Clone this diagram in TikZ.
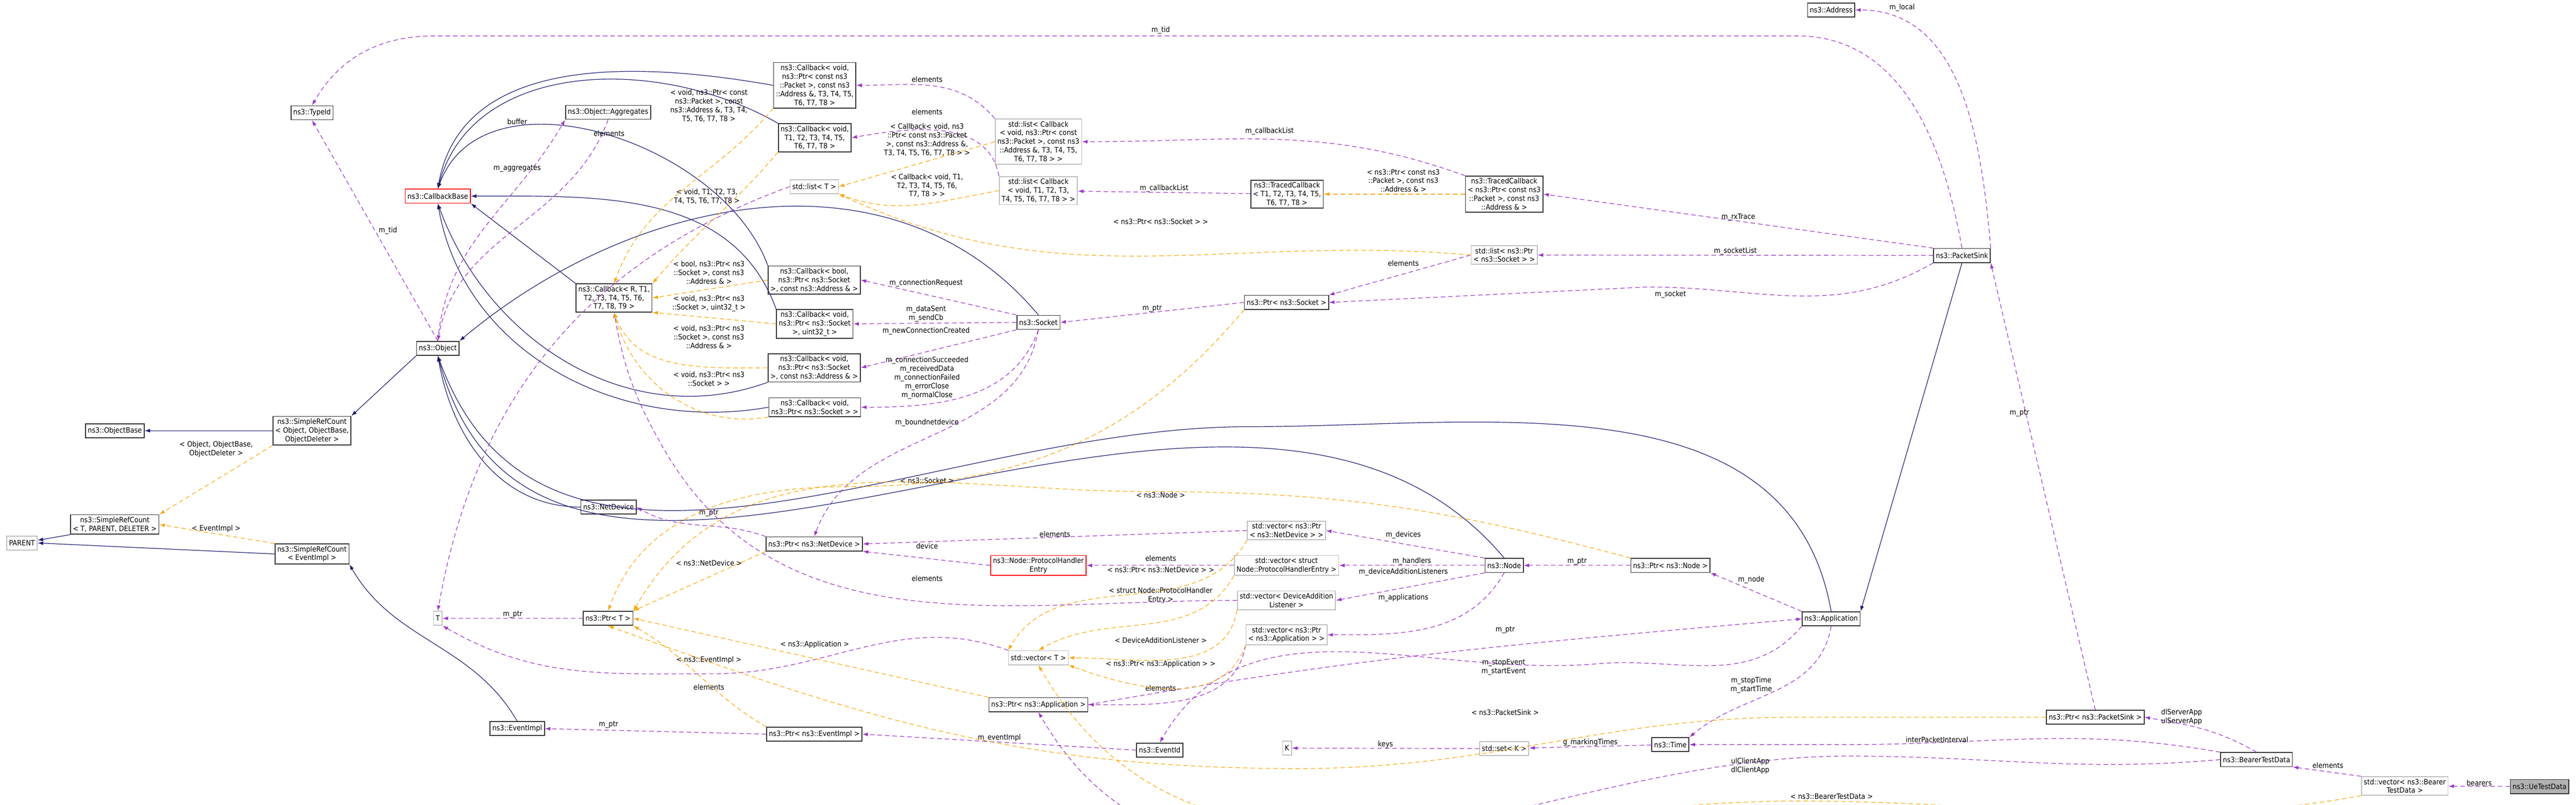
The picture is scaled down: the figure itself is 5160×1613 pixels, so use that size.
\documentclass[tikz,border=0pt]{standalone}
\usepackage{fontspec}
\setmainfont{DejaVu Sans Condensed}
\usetikzlibrary{arrows.meta}
\definecolor{inhblue}{HTML}{191970}
\definecolor{usepurple}{HTML}{9A32CD}
\definecolor{instorange}{HTML}{FFA500}
\definecolor{tmplgray}{HTML}{BFBFBF}
\tikzset{
  cls/.style={draw=black!80, line width=0.5pt, rectangle, inner xsep=1.3pt, inner ysep=1.2pt, minimum height=0.28cm, align=center, font=\fontsize{4.2}{4.95}\selectfont, fill=white},
  tmpl/.style={cls, draw=tmplgray},
  bad/.style={cls, draw=red},
  here/.style={cls, fill=black!30},
  lbl/.style={font=\fontsize{4.2}{4.95}\selectfont, align=center, inner sep=0pt},
  tip/.style={-{Latex[length=0.11cm,width=0.075cm]}},
  inh/.style={tip, draw=inhblue, line width=0.35pt},
  use/.style={tip, draw=usepurple, line width=0.35pt, dash pattern=on 0.09cm off 0.06cm},
  inst/.style={tip, draw=instorange, line width=0.35pt, dash pattern=on 0.09cm off 0.06cm},
}
\begin{document}
\begin{tikzpicture}[x=0.01cm,y=-0.01cm]
\useasboundingbox (0,0) rectangle (5160,1613);
% base classes
\node[cls] (typeid) at (625,226) {ns3::TypeId};
\node[bad] (cbbase) at (877,393) {ns3::CallbackBase};
\node[cls] (aggr) at (1218,225) {ns3::Object::Aggregates};
\node[cls] (object) at (877,698) {ns3::Object};
\node[cls] (cbrt) at (1230,597) {ns3::Callback< R, T1,\\ T2, T3, T4, T5, T6,\\ T7, T8, T9 >};
\node[cls] (objbase) at (230,863) {ns3::ObjectBase};
\node[cls] (srcobj) at (625,863) {ns3::SimpleRefCount\\< Object, ObjectBase,\\ ObjectDeleter >};
\node[cls] (srct) at (230,1051) {ns3::SimpleRefCount\\< T, PARENT, DELETER >};
\node[tmpl] (parent) at (44,1088) {PARENT};
\node[cls] (srcev) at (625,1110) {ns3::SimpleRefCount\\< EventImpl >};
\node[cls] (netdev) at (1219,1016) {ns3::NetDevice};
\node[tmpl] (tt) at (877,1239) {T};
\node[cls] (ptrt) at (1218,1239) {ns3::Ptr< T >};
\node[cls] (evimpl) at (1036,1460) {ns3::EventImpl};
% callbacks
\node[cls] (cbpkt) at (1632,171) {ns3::Callback< void,\\ ns3::Ptr< const ns3\\::Packet >, const ns3\\::Address \&, T3, T4, T5,\\ T6, T7, T8 >};
\node[cls] (cbt) at (1632,276) {ns3::Callback< void,\\ T1, T2, T3, T4, T5,\\ T6, T7, T8 >};
\node[tmpl] (listt) at (1631,374) {std::list< T >};
\node[tmpl] (listcbpkt) at (2080,284) {std::list< Callback\\< void, ns3::Ptr< const\\ ns3::Packet >, const ns3\\::Address \&, T3, T4, T5,\\ T6, T7, T8 > >};
\node[tmpl] (listcbt) at (2080,382) {std::list< Callback\\< void, T1, T2, T3,\\ T4, T5, T6, T7, T8 > >};
\node[cls] (tracedt) at (2578,389) {ns3::TracedCallback\\< T1, T2, T3, T4, T5,\\ T6, T7, T8 >};
\node[cls] (cbbool) at (1631,561) {ns3::Callback< bool,\\ ns3::Ptr< ns3::Socket\\ >, const ns3::Address \& >};
\node[cls] (cbuint) at (1632,649) {ns3::Callback< void,\\ ns3::Ptr< ns3::Socket\\ >, uint32\_t >};
\node[cls] (cbaddr) at (1631,737) {ns3::Callback< void,\\ ns3::Ptr< ns3::Socket\\ >, const ns3::Address \& >};
\node[cls] (cbsock) at (1632,816) {ns3::Callback< void,\\ ns3::Ptr< ns3::Socket > >};
\node[cls] (socket) at (2080,646) {ns3::Socket};
\node[cls] (ptrsock) at (2577,606) {ns3::Ptr< ns3::Socket >};
\node[cls] (address) at (3668,20) {ns3::Address};
\node[cls] (tracedpkt) at (3013,389) {ns3::TracedCallback\\< ns3::Ptr< const ns3\\::Packet >, const ns3\\::Address \& >};
\node[tmpl] (listsock) at (3013,511) {std::list< ns3::Ptr\\< ns3::Socket > >};
\node[cls] (sink) at (3930,512) {ns3::PacketSink};
% node, devices, applications
\node[cls] (ptrnd) at (1631,1090) {ns3::Ptr< ns3::NetDevice >};
\node[bad] (proto) at (2080,1133) {ns3::Node::ProtocolHandler\\Entry};
\node[tmpl] (vect) at (2080,1318) {std::vector< T >};
\node[cls] (ptrapp) at (2080,1412) {ns3::Ptr< ns3::Application >};
\node[cls] (ptrev) at (1631,1471) {ns3::Ptr< ns3::EventImpl >};
\node[cls] (evid) at (2323,1503) {ns3::EventId};
\node[tmpl] (kk) at (2578,1499) {K};
\node[tmpl] (vecnd) at (2577,1063) {std::vector< ns3::Ptr\\< ns3::NetDevice > >};
\node[tmpl] (vecproto) at (2577,1133) {std::vector< struct\\ Node::ProtocolHandlerEntry >};
\node[tmpl] (vecdal) at (2577,1203) {std::vector< DeviceAddition\\Listener >};
\node[tmpl] (vecapp) at (2577,1272) {std::vector< ns3::Ptr\\< ns3::Application > >};
\node[cls] (node) at (3013,1133) {ns3::Node};
\node[cls] (ptrnode) at (3346,1133) {ns3::Ptr< ns3::Node >};
\node[cls] (app) at (3668,1240) {ns3::Application};
\node[cls] (time) at (3346,1492) {ns3::Time};
\node[tmpl] (setk) at (3013,1500) {std::set< K >};
\node[cls] (ptrsink) at (4197,1437) {ns3::Ptr< ns3::PacketSink >};
\node[cls] (bearer) at (4520,1522) {ns3::BearerTestData};
\node[tmpl] (vecbearer) at (4817,1575) {std::vector< ns3::Bearer\\TestData >};
\node[here] (ue) at (5087,1576) {ns3::UeTestData};

% inheritance
\draw[inh] (srcobj) -- (objbase);
\draw[inh] (object.south west) -- (srcobj.north east);
\draw[inh] (srct.south west) -- (parent);
\draw[inh] (srcev.west) -- (parent.east);
\draw[inh] (evimpl.north) to[out=120,in=-60] (srcev.south east);
\draw[inh] (cbrt.north west) -- (cbbase.south east);
\draw[inh] (cbpkt.west) to[out=170,in=80] (cbbase.north);
\draw[inh] (cbt.north west) to[out=150,in=75] (cbbase.north);
\draw[inh] (cbbool.north west) to[out=110,in=70] (cbbase.north);
\draw[inh] (cbuint.north west) to[out=110,in=0] (cbbase.east);
\draw[inh] (cbaddr.south west) to[out=200,in=-70] (cbbase.south);
\draw[inh] (cbsock.west) to[out=190,in=-80] (cbbase.south);
\draw[inh] (socket.north) to[out=130,in=40] (object.north east);
\draw[inh] (netdev.west) to[out=180,in=-80] (object.south);
\draw[inh] (node.north) to[out=130,in=-75] (object.south);
\draw[inh] (app.north) to[out=100,in=0] (2500,855) to[out=180,in=-70] (object.south);
\draw[inh] (sink.south) -- (app.north east);

% usage
\draw[use] (object.north) -- node[lbl,pos=.5,right=2pt] {m\_tid} (typeid.south);
\draw[use] (sink.north) to[out=100,in=0] (3600,72) -- (870,72) to[out=180,in=60] (typeid.north);
\node[lbl] at (2325,61) {m\_tid};
\draw[use] (sink.north east) to[out=95,in=0] (address.east);
\node[lbl] at (3810,15) {m\_local};
\draw[use] (object.north) to[out=85,in=-120] (aggr.south west);
\node[lbl] at (1036,338) {m\_aggregates};
\draw[use] (aggr.south) to[out=-110,in=80] (object.north);
\node[lbl] at (1036,244) {buffer};
\draw[use] (listt.west) to[out=200,in=80] (tt.north);
\node[lbl] at (1220,267) {elements};
\draw[use] (listcbpkt.north west) to[out=130,in=0] (cbpkt.east);
\node[lbl] at (1857,159) {elements};
\draw[use] (listcbt.north west) to[out=100,in=10] (cbt.east);
\node[lbl] at (1857,224) {elements};
\draw[use] (tracedpkt.north west) to[out=160,in=0] (listcbpkt.east);
\node[lbl] at (2543,263) {m\_callbackList};
\draw[use] (tracedt) -- node[lbl,above] {m\_callbackList} (listcbt);
\draw[use] (sink.north west) -- node[lbl,pos=.5,above] {m\_rxTrace} (tracedpkt.east);
\draw[use] (sink) -- node[lbl,above] {m\_socketList} (listsock);
\draw[use] (sink.south west) to[out=-150,in=0] (3300,575) -- (ptrsock.east);
\node[lbl] at (3346,590) {m\_socket};
\draw[use] (listsock.west) -- (ptrsock.north east);
\node[lbl] at (2811,528) {elements};
\draw[use] (ptrsock.west) -- node[lbl,above] {m\_ptr} (socket.east);
\draw[use] (socket.north west) -- (cbbool.east);
\node[lbl] at (1855,567) {m\_connectionRequest};
\draw[use] (socket.west) -- (cbuint.east);
\node[lbl] at (1855,629) {m\_dataSent\\m\_sendCb};
\draw[use] (socket.south west) -- (cbaddr.east);
\node[lbl] at (1855,663) {m\_newConnectionCreated};
\draw[use] (socket.south) to[out=-110,in=0] (cbsock.east);
\node[lbl] at (1857,757) {m\_connectionSucceeded\\m\_receivedData\\m\_connectionFailed\\m\_errorClose\\m\_normalClose};
\draw[use] (socket.south) to[out=-100,in=70] (ptrnd.north);
\node[lbl] at (1857,847) {m\_boundnetdevice};
\draw[use] (ptrnd.north west) to[out=160,in=-30] (netdev.east);
\node[lbl] at (1420,1028) {m\_ptr};
\draw[use] (vecnd.west) -- node[lbl,above] {elements} (ptrnd.east);
\draw[use] (proto.west) -- (ptrnd.south east);
\node[lbl] at (1857,1094) {device};
\draw[use] (vecproto) -- (proto);
\node[lbl] at (2325,1119) {elements};
\draw[use] (vecdal.west) to[out=180,in=-60] (1330,900) to[out=120,in=-80] (cbrt.south);
\node[lbl] at (1857,1159) {elements};
\draw[use] (node.north west) -- (vecnd.east);
\node[lbl] at (2811,1072) {m\_devices};
\draw[use] (node) -- node[lbl,above] {m\_handlers} (vecproto);
\draw[use] (node.south west) -- (vecdal.east);
\node[lbl] at (2811,1146) {m\_deviceAdditionListeners};
\draw[use] (node.south) to[out=-120,in=0] (vecapp.east);
\node[lbl] at (2811,1198) {m\_applications};
\draw[use] (ptrnode) -- node[lbl,above] {m\_ptr} (node);
\draw[use] (app.north west) -- (ptrnode.south east);
\node[lbl] at (3508,1162) {m\_node};
\draw[use] (ptrapp.east) to[out=10,in=185] (app.west);
\node[lbl] at (3015,1262) {m\_ptr};
\draw[use] (vecapp.south west) to[out=-100,in=0] (ptrapp.east);
\node[lbl] at (2325,1379) {elements};
\draw[use] (app.south west) to[out=-130,in=5] (3200,1330) to[out=185,in=60] (evid.north);
\node[lbl] at (3012,1337) {m\_stopEvent\\m\_startEvent};
\draw[use] (app.south) to[out=-100,in=40] (time.north east);
\node[lbl] at (3508,1373) {m\_stopTime\\m\_startTime};
\draw[use] (evid.west) -- node[lbl,above] {m\_eventImpl} (ptrev.east);
\draw[use] (ptrev.west) -- (evimpl.east);
\node[lbl] at (1219,1452) {m\_ptr};
\draw[use] (ptrt) -- node[lbl,above] {m\_ptr} (tt);
\draw[use] (vect.north west) to[out=160,in=0] (1430,1350) to[out=180,in=-30] (tt.south east);
\node[lbl] at (1420,1377) {elements};
\draw[use] (setk) -- node[lbl,above] {keys} (kk);
\draw[use] (time) -- node[lbl,above] {g\_markingTimes} (setk);
\draw[use] (bearer.north west) to[out=170,in=0] (3700,1492) -- (time.east);
\node[lbl] at (3880,1482) {interPacketInterval};
\draw[use] (bearer.west) to[out=185,in=0] (3700,1515) to[out=180,in=-60] (ptrapp.south);
\node[lbl] at (3506,1535) {ulClientApp\\dlClientApp};
\draw[use] (bearer.north) to[out=150,in=-10] (ptrsink.east);
\node[lbl] at (4370,1437) {dlServerApp\\ulServerApp};
\draw[use] (vecbearer.north west) -- (bearer.south east);
\node[lbl] at (4663,1534) {elements};
\draw[use] (ue) -- node[lbl,above] {bearers} (vecbearer);
\draw[use] (ptrsink.north) -- (sink.south east);
\node[lbl] at (4045,828) {m\_ptr};

% template instances
\draw[inst] (srcobj.south west) -- (srct.north east);
\node[lbl] at (433,900) {< Object, ObjectBase,\\ObjectDeleter >};
\draw[inst] (srcev.north west) -- (srct.east);
\node[lbl] at (433,1059) {< EventImpl >};
\draw[inst] (cbpkt.south west) to[out=-130,in=70] (cbrt.north);
\node[lbl] at (1420,212) {< void, ns3::Ptr< const\\ns3::Packet >, const\\ns3::Address \&, T3, T4,\\T5, T6, T7, T8 >};
\draw[inst] (cbt.south west) to[out=-130,in=50] (cbrt.north east);
\node[lbl] at (1416,394) {< void, T1, T2, T3,\\T4, T5, T6, T7, T8 >};
\draw[inst] (cbbool.west) -- (cbrt.east);
\node[lbl] at (1420,546) {< bool, ns3::Ptr< ns3\\::Socket >, const ns3\\::Address \& >};
\draw[inst] (cbuint.west) -- (cbrt.south east);
\node[lbl] at (1420,608) {< void, ns3::Ptr< ns3\\::Socket >, uint32\_t >};
\draw[inst] (cbaddr.west) to[out=180,in=-70] (cbrt.south);
\node[lbl] at (1420,675) {< void, ns3::Ptr< ns3\\::Socket >, const ns3\\::Address \& >};
\draw[inst] (cbsock.south west) to[out=190,in=-75] (cbrt.south);
\node[lbl] at (1420,759) {< void, ns3::Ptr< ns3\\::Socket > >};
\draw[inst] (listcbpkt.west) -- (listt.east);
\node[lbl] at (1857,280) {< Callback< void, ns3\\::Ptr< const ns3::Packet\\>, const ns3::Address \&,\\T3, T4, T5, T6, T7, T8 > >};
\draw[inst] (listcbt.west) to[out=190,in=-20] (listt.south east);
\node[lbl] at (1857,372) {< Callback< void, T1,\\T2, T3, T4, T5, T6,\\T7, T8 > >};
\draw[inst] (listsock.west) to[out=175,in=-25] (listt.south east);
\node[lbl] at (2325,444) {< ns3::Ptr< ns3::Socket > >};
\draw[inst] (tracedpkt.west) -- (tracedt.east);
\node[lbl] at (2811,362) {< ns3::Ptr< const ns3\\::Packet >, const ns3\\::Address \& >};
\draw[inst] (ptrsock.south west) to[out=-130,in=0] (1700,975) to[out=180,in=70] (ptrt.north);
\node[lbl] at (1857,963) {< ns3::Socket >};
\draw[inst] (ptrnode.north west) to[out=165,in=0] (2300,985) to[out=180,in=60] (ptrt.north east);
\node[lbl] at (2325,992) {< ns3::Node >};
\draw[inst] (ptrnd.south west) -- (ptrt.north east);
\node[lbl] at (1420,1128) {< ns3::NetDevice >};
\draw[inst] (ptrapp.north west) -- (ptrt.east);
\node[lbl] at (1632,1292) {< ns3::Application >};
\draw[inst] (ptrev.north west) to[out=150,in=-30] (ptrt.south east);
\node[lbl] at (1420,1323) {< ns3::EventImpl >};
\draw[inst] (ptrsink.west) -- (3600,1437) to[out=180,in=0] (2600,1540) to[out=180,in=-20] (ptrt.south);
\node[lbl] at (3015,1427) {< ns3::PacketSink >};
\draw[inst] (vecbearer.south west) to[out=190,in=0] (3600,1605) to[out=180,in=-60] (vect.south);
\node[lbl] at (3669,1596) {< ns3::BearerTestData >};
\draw[inst] (vecnd.south west) to[out=-120,in=60] (vect.north west);
\draw[inst] (vecproto.south west) to[out=-120,in=30] (vect.north);
\node[lbl] at (2325,1142) {< ns3::Ptr< ns3::NetDevice > >};
\draw[inst] (vecdal.south west) to[out=-100,in=0] (vect.east);
\node[lbl] at (2325,1193) {< struct Node::ProtocolHandler\\Entry >};
\node[lbl] at (2325,1283) {< DeviceAdditionListener >};
\draw[inst] (vecapp.south west) to[out=-110,in=-20] (vect.south east);
\node[lbl] at (2325,1331) {< ns3::Ptr< ns3::Application > >};
\end{tikzpicture}
\end{document}
